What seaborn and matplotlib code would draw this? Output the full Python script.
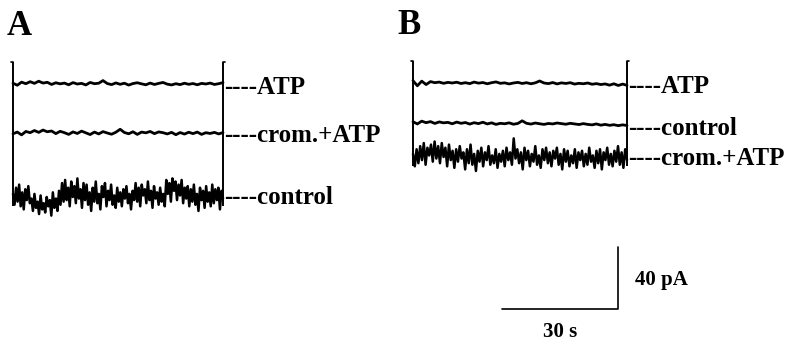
import numpy as np
import matplotlib
matplotlib.use("Agg")
from matplotlib import pyplot as plt
import seaborn as sns

# current traces, pA relative to each trace's baseline
atp_a = [0.5, -0.8, 1.2, 0.2, 1.5, 0.4, 1.8, 0.6, 1.1, -0.3, 0.8, 0.1, 0.6, -0.5, 0.9, 0.0,
         0.4, -0.6, 1.0, 0.2, 0.5, 2.2, 0.3, -0.4, 0.7, -0.2, 0.5, -0.7, 0.3, 0.8, 0.1, -0.5,
         0.6, -0.3, 0.4, 1.0, -0.1, -0.6, 0.2, -0.4, 0.5, -0.2, 0.3, -0.5, 0.4, 0.0, 0.6, -0.3,
         0.2, 0.9]
crom_a = [-0.5, 0.6, -1.2, 1.0, 0.2, 1.6, 0.4, 1.9, 0.8, 1.3, -0.4, 1.1, 0.2, -0.9, 0.7, -0.3,
          1.2, 0.1, -1.0, 0.6, -0.6, 0.9, 0.0, -0.8, 0.5, 2.4, 0.3, -0.5, 0.8, -0.9, 0.6, 0.1,
          1.0, -0.4, 0.7, 0.2, -0.6, 0.4, -1.1, 0.3, -0.7, 0.5, -0.4, 0.6, -0.9, 0.2, -0.3, 0.4,
          -0.6, 0.3]
ctrl_a = [2, -5, 6, -3, 8, -6, 3, -8, 5, -2, 7, -4, -1, -9, 2, -7, -3, -11, 1, -8, -4, -10,
          0, -6, -2, -12, 3, -7, -1, -9, 4, -5, 9, -3, 11, -2, 6, -6, 10, 0, 7, -4, 12, -1, 5,
          -7, 9, -2, 8, -5, 3, -9, 6, -3, 10, -4, 2, -8, 7, 0, 9, -6, 4, -2, 8, -5, 1, -7, 6,
          -3, 3, -6, 5, -1, 7, -4, 2, -8, 4, -2, 9, -3, 6, -6, 8, 1, 5, -4, 10, -2, 4, -7, 7,
          -1, 3, -5, 6, -3, 2, -6, 11, 2, 9, -3, 12, 4, 10, -2, 8, 1, 11, -4, 6, -1, 7, -6, 5,
          -3, 8, -5, 2, -9, 6, -2, 4, -7, 7, -3, 3, -6, 8, -4, 5, -2, 6, -8, 4, -1]

atp_b = [1.5, -1.8, 1.2, -1.0, 0.9, 0.2, 0.6, -0.2, 0.4, 0.0, 0.5, -0.3, 0.2, -0.4, 0.6, -0.1,
         0.3, -0.5, 0.2, 0.7, -0.2, 0.1, -0.6, 0.0, 0.4, -0.3, 0.2, -0.5, 0.1, 1.3, 0.0, -0.4,
         0.3, -0.6, 0.1, -0.3, 0.2, -0.7, -0.2, -0.5, 0.0, -0.8, -0.4, -1.0, -0.6, -1.4, -0.5,
         -1.6, -0.7, -1.5]
ctrl_b = [0.8, -0.6, 1.2, 0.2, 0.9, -0.3, 0.7, 0.1, 0.4, -0.5, 0.6, -0.2, 0.3, -0.7, 0.2, -0.4,
          0.5, -0.6, 0.1, -0.9, -0.2, -0.5, 0.1, -0.8, -0.3, 1.4, -0.2, -0.7, 0.0, -0.5, -0.9,
          -0.3, -0.6, 0.0, -0.4, -0.8, -0.2, -0.6, -1.0, -0.4, -0.9, -1.2, -0.6, -1.4, -0.9,
          -1.5, -1.1, -1.7, -1.2, -1.6]
crom_b = [2, -6, 5, -4, 7, -2, 9, -5, 6, 1, 8, -3, 10, -1, 7, -4, 9, 0, 6, -6, 8, -2, 4, -7,
          5, -3, 7, -1, 3, -8, 5, -4, 8, -5, 2, -9, 4, -3, 6, -6, 3, -2, 7, -5, 1, -4, 5, -7,
          2, -3, 4, -6, 6, -2, 3, -5, 12, -1, 5, -4, 3, -8, 6, -2, 4, -6, 2, -3, 7, -5, 1, -7,
          5, -2, 6, -4, 3, -6, 4, -1, 6, -5, 2, -8, 5, -3, 4, -6, 1, -4, 5, -7, 3, -2, 4, -6,
          2, -5, 6, -3, 1, -7, 4, -4, 5, -8, 3, -2, 6, -5, 2, -6, 4, -3, 7, -5, 3, -7, 5, -2]

labels_a = ["ATP", "crom.+ATP", "control"]
labels_b = ["ATP", "control", "crom.+ATP"]
bar_pA = 40
bar_s = 30

# layout in data units: seconds across, pA up (pixel scale taken from the scale bar)
px_s = 116 / bar_s
px_pa = 62 / bar_pA
t0_a, t1_a = 13 / px_s, 223 / px_s
t0_b, t1_b = 413 / px_s, 627 / px_s
base_a = [-84 / px_pa, -133 / px_pa, -197 / px_pa]
base_b = [-83 / px_pa, -123 / px_pa, -157 / px_pa]
lab_a = [-87 / px_pa, -135 / px_pa, -197 / px_pa]
lab_b = [-86 / px_pa, -128 / px_pa, -158 / px_pa]

sns.set_style("white")
fig = plt.figure(figsize=(8, 3.45), dpi=100)
ax = fig.add_axes([0, 0, 1, 1])
ax.set_xlim(0, 800 / px_s)
ax.set_ylim(-345 / px_pa, 0)
ax.axis("off")

times = ["Liberation Serif", "DejaVu Serif"]


def draw_panel(traces, bases, labels, lab_y, t0, t1, tick):
    for vals, b in zip(traces, bases):
        t = np.linspace(t0, t1, len(vals))
        lw = 1.8 if max(vals) > 4 else 2.0
        sns.lineplot(x=t, y=np.array(vals) + b, ax=ax, color="black", lw=lw,
                     sort=False, estimator=None)
    top = bases[0] + 14
    low = bases[-1] - 6
    ax.vlines([t0, t1], low, top, color="black", lw=1.4)
    ax.plot([t0 - tick, t0], [top, top], color="black", lw=1.2)
    ax.plot([t1, t1 + tick], [top, top], color="black", lw=1.2)
    for name, y in zip(labels, lab_y):
        ax.text(t1 + 0.3, y, "----" + name, fontsize=18, fontweight="bold",
                family=times, color="black", va="center", ha="left")


draw_panel([atp_a, crom_a, ctrl_a], base_a, labels_a, lab_a, t0_a, t1_a, 0.6)
draw_panel([atp_b, ctrl_b, crom_b], base_b, labels_b, lab_b, t0_b, t1_b, 0.6)

# scale bar
sb_x = 618 / px_s
sb_y = -309 / px_pa
ax.plot([sb_x - bar_s, sb_x, sb_x], [sb_y, sb_y, sb_y + bar_pA], color="black", lw=1.2)
ax.text(sb_x + 4.4, sb_y + bar_pA / 2 - 1.5, "40 pA", fontsize=15, fontweight="bold",
        family=times, color="black", va="center", ha="left")
ax.text(sb_x - bar_s / 2, sb_y - 15, "30 s", fontsize=15, fontweight="bold",
        family=times, color="black", va="center", ha="center")

# panel letters
ax.text(7 / px_s, -26 / px_pa, "A", fontsize=25, fontweight="bold", family=times,
        color="black", va="center")
ax.text(397 / px_s, -25 / px_pa, "B", fontsize=25, fontweight="bold", family=times,
        color="black", va="center")

fig.savefig("out.png", dpi=100)
